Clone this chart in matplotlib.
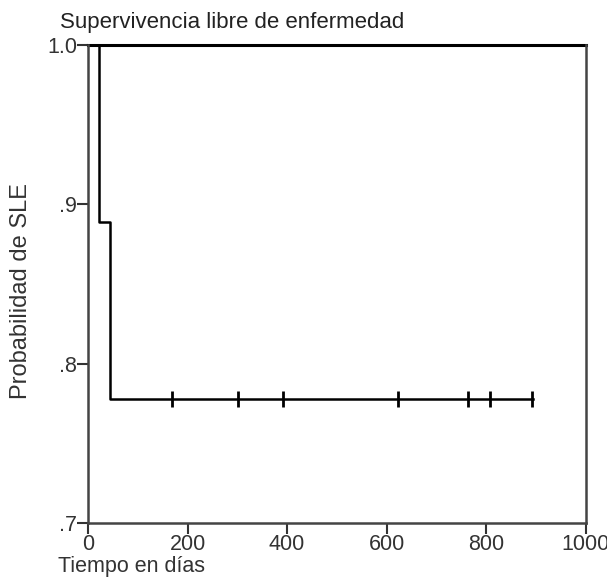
import matplotlib
matplotlib.use("Agg")
from matplotlib import pyplot as plt

# Kaplan-Meier steps (days, survival)
step_times = [0, 22, 45, 895]
step_surv = [1.0, 0.889, 0.778, 0.778]
censor_times = [169, 302, 392, 622, 763, 807, 891]
censor_surv = [0.778] * len(censor_times)
# group with no events
flat_times = [0, 1000]
flat_surv = [1.0, 1.0]

x_ticks = [0, 200, 400, 600, 800, 1000]
y_ticks = [0.7, 0.8, 0.9, 1.0]
y_labels = [".7", ".8", ".9", "1.0"]

plt.rcParams["font.family"] = ["Liberation Sans", "DejaVu Sans"]

fig = plt.figure(figsize=(6.07, 5.77), dpi=100)
ax = fig.add_axes([0.145, 0.094, 0.82, 0.828])

ax.step(step_times, step_surv, where="post", color="black", lw=1.8, clip_on=False)
ax.plot(flat_times, flat_surv, color="black", lw=2.2, clip_on=False)
ax.plot(censor_times, censor_surv, ls="none", marker="|", ms=11, mew=2,
        color="black", clip_on=False)

ax.set_xlim(0, 1000)
ax.set_ylim(0.7, 1.0)
ax.set_xticks(x_ticks)
ax.set_yticks(y_ticks)
ax.set_yticklabels(y_labels)
ax.tick_params(direction="out", length=8, width=1.5, labelsize=15.5,
               colors="#333333", pad=0)

ax.spines["top"].set_visible(False)
for s in ["left", "right", "bottom"]:
    ax.spines[s].set_linewidth(1.8)
    ax.spines[s].set_color("#444444")

ax.set_ylabel("Probabilidad de SLE", fontsize=17, color="#333333")
ax.yaxis.set_label_coords(-0.112, 0.485)
fig.text(0.099, 0.943, "Supervivencia libre de enfermedad", fontsize=16,
         color="#222222", ha="left", va="bottom")
fig.text(0.095, 0.0, "Tiempo en días", fontsize=15.5, color="#333333",
         ha="left", va="bottom")

fig.savefig("out.png", dpi=100)
